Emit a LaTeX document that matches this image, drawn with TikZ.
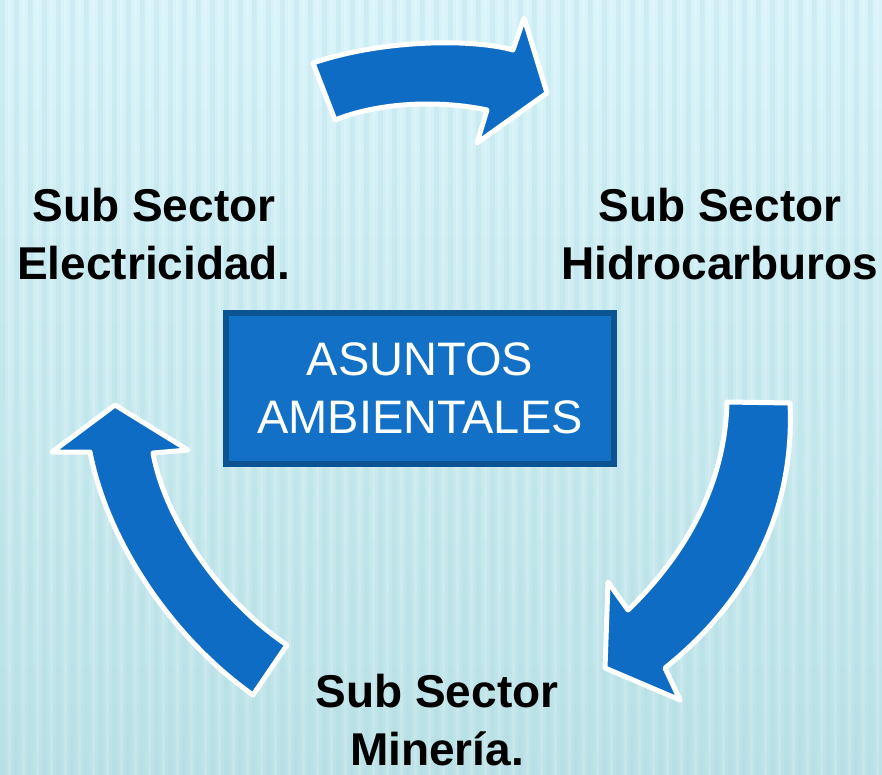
\documentclass[tikz,border=0pt]{standalone}
\usepackage{fontspec}
\setmainfont{Liberation Sans}
\definecolor{bgtop}{HTML}{D8F4FA}
\definecolor{bgbot}{HTML}{BCE2E7}
\definecolor{stripe}{HTML}{A9D8DE}
\definecolor{arrowblue}{HTML}{0F6CC4}
\definecolor{boxfill}{HTML}{1271C6}
\definecolor{boxline}{HTML}{0B5391}
\tikzset{
  bigarrow/.style={fill=arrowblue, draw=white, line width=5pt, line join=round},
  sectorlabel/.style={font=\bfseries\fontsize{46}{58}\selectfont, text=black, align=center, inner sep=0pt},
  centerbox/.style={fill=boxfill, draw=boxline, line width=6pt, minimum width=388pt, minimum height=151pt,
    align=center, text=white, font=\fontsize{47}{58}\selectfont, inner sep=0pt}
}
\begin{document}
\begin{tikzpicture}[x=1pt,y=-1pt]
\useasboundingbox (0,0) rectangle (882,775);
% background
\fill[top color=bgtop, bottom color=bgbot] (0,0) rectangle (882,775);
\foreach \s in {0,14,...,882} {
  \fill[stripe, opacity=0.22] (\s,0) rectangle (\s+5,775);
  \fill[white, opacity=0.16] (\s+8,0) rectangle (\s+11,775);
}
% top arrow
\path[bigarrow] (313,63) .. controls (380,40) and (470,38) .. (513,50)
  -- (524,18) -- (547,93) -- (477,143) -- (487,110)
  .. controls (440,100) and (380,102) .. (335,120) -- cycle;
% right arrow
\path[bigarrow] (727,402) -- (790,403)
  .. controls (795,510) and (750,600) .. (665,668)
  -- (680,700) -- (605,668) -- (608,582) -- (628,610)
  .. controls (690,550) and (725,480) .. (727,402) -- cycle;
% left arrow
\path[bigarrow] (115,405) -- (188,450) -- (153,453)
  .. controls (165,520) and (220,600) .. (287,645)
  -- (253,695)
  .. controls (175,640) and (108,545) .. (90,452)
  -- (52,452) -- cycle;
% labels
\node[sectorlabel] (elec) at (154,234) {Sub Sector\\Electricidad.};
\node[sectorlabel] (hidro) at (720,234) {Sub Sector\\Hidrocarburos};
\node[sectorlabel] (mineria) at (437,720) {Sub Sector\\Minería.};
\node[centerbox] (asuntos) at (420,388) {ASUNTOS\\AMBIENTALES};
\end{tikzpicture}
\end{document}
